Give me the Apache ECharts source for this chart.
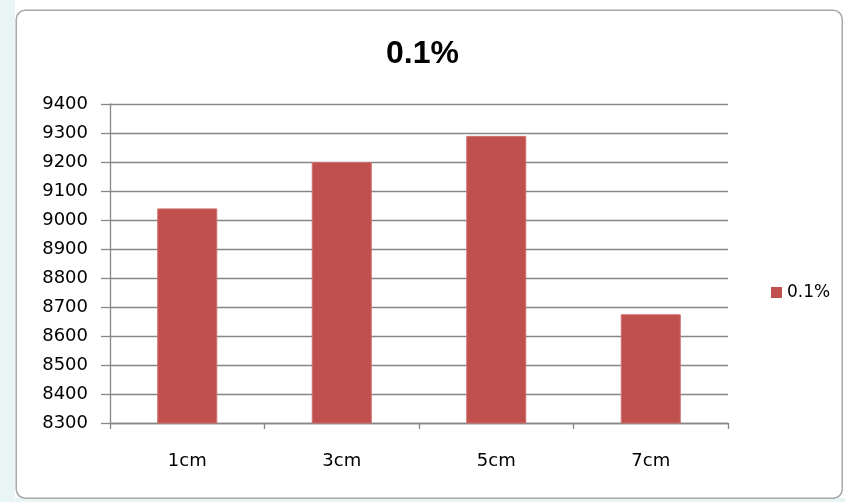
<!DOCTYPE html>
<html>
<head>
<meta charset="utf-8">
<script src="https://cdn.jsdelivr.net/npm/echarts@6/dist/echarts.min.js"></script>
<style>
  html, body { margin: 0; padding: 0; background: #ffffff; }
  #chart { width: 845px; height: 502px; }
</style>
</head>
<body>
<div id="chart"></div>
<script>
// Chart data
const categories = ['1cm', '3cm', '5cm', '7cm'];
const seriesName = '0.1%';
const values = [9040, 9200, 9290, 8675];
const yMin = 8300;
const yMax = 9400;
const yStep = 100;

const chart = echarts.init(document.getElementById('chart'), null, { renderer: 'canvas' });

const labelFont = '"DejaVu Sans", Verdana, sans-serif';
const gridColor = '#878787';

chart.setOption({
  animation: false,
  backgroundColor: '#ffffff',
  graphic: [
    // pale strip left of the chart frame
    { type: 'rect', left: 0, top: 0, shape: { width: 15, height: 502 }, style: { fill: '#e9f5f5' }, z: -10 },
    { type: 'rect', left: 0, top: 498, shape: { width: 845, height: 4 }, style: { fill: '#e9f5f5' }, z: -10 },
    // chart frame
    {
      type: 'rect', left: 15.5, top: 9.5,
      shape: { width: 826, height: 488, r: 9 },
      style: { fill: '#ffffff', stroke: '#a8a8a8', lineWidth: 1.5 },
      z: -5
    }
  ],
  title: {
    text: seriesName,
    left: 'center',
    top: 33,
    textStyle: {
      fontFamily: '"Liberation Sans", Arial, sans-serif',
      fontWeight: 'bold',
      fontSize: 32,
      color: '#000000'
    }
  },
  legend: {
    data: [seriesName],
    orient: 'vertical',
    left: 766,
    top: 279,
    itemWidth: 11,
    itemHeight: 11,
    itemGap: 6,
    icon: 'rect',
    itemStyle: { borderWidth: 0 },
    textStyle: { fontFamily: labelFont, fontSize: 17, color: '#000000' }
  },
  grid: { left: 110, right: 117, top: 104, bottom: 79, containLabel: false },
  xAxis: {
    type: 'category',
    data: categories,
    axisLine: { show: true, lineStyle: { color: gridColor, width: 1.3 } },
    axisTick: { show: true, length: 6, alignWithLabel: false, lineStyle: { color: gridColor, width: 1.3 } },
    axisLabel: { margin: 29, fontFamily: labelFont, fontSize: 18, color: '#000000' },
    splitLine: { show: false }
  },
  yAxis: {
    type: 'value',
    min: yMin,
    max: yMax,
    interval: yStep,
    axisLine: { show: true, lineStyle: { color: gridColor, width: 1.3 } },
    axisTick: { show: true, length: 9, lineStyle: { color: gridColor, width: 1.3 } },
    axisLabel: {
      margin: 22, fontFamily: labelFont, fontSize: 18, color: '#000000',
      formatter: (v) => String(v)
    },
    splitLine: { show: true, lineStyle: { color: gridColor, width: 1.3 } }
  },
  series: [{
    name: seriesName,
    type: 'bar',
    data: values,
    barWidth: 60,
    itemStyle: { color: '#c0504d', borderColor: '#cf6f6c', borderWidth: 1 }
  }]
});
</script>
</body>
</html>
